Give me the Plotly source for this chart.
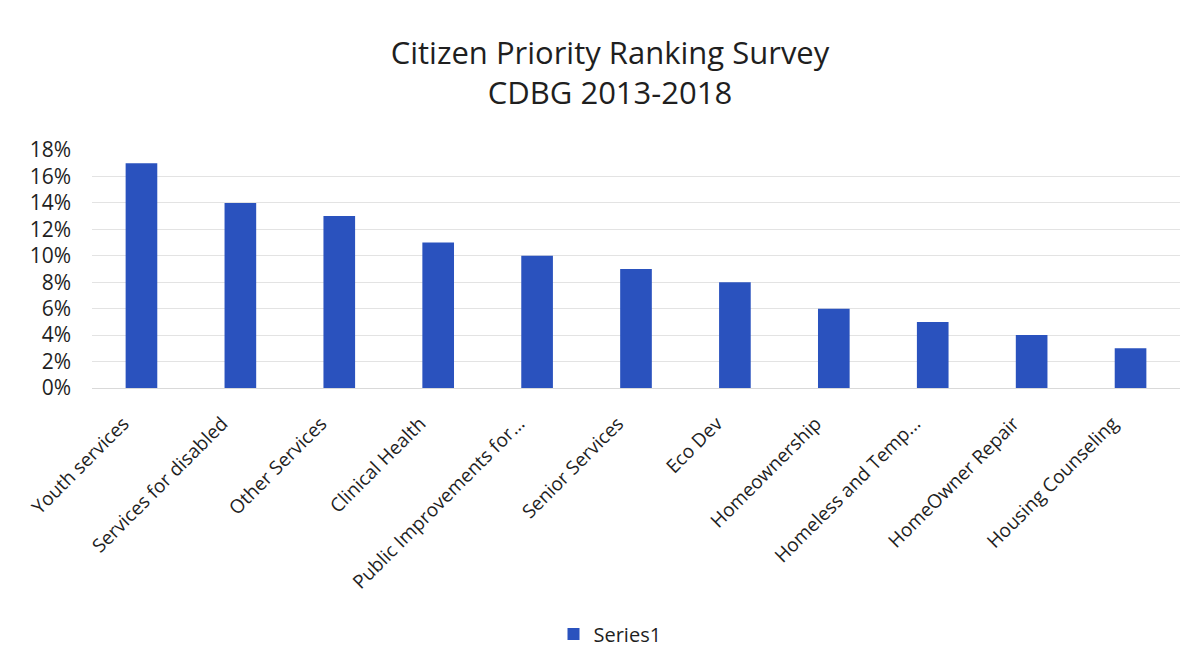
import plotly.graph_objects as go

categories = ["Youth services", "Services for disabled", "Other Services", "Clinical Health",
              "Public Improvements for...", "Senior Services", "Eco Dev", "Homeownership",
              "Homeless and Temp...", "HomeOwner Repair", "Housing Counseling"]
values = [0.17, 0.14, 0.13, 0.11, 0.10, 0.09, 0.08, 0.06, 0.05, 0.04, 0.03]
y_ticks = [0, 0.02, 0.04, 0.06, 0.08, 0.10, 0.12, 0.14, 0.16, 0.18]

FONT = "Open Sans"
TXT = "#1f1f1f"

fig = go.Figure(go.Bar(
    x=categories, y=values, name="Series1",
    marker=dict(color="#2a52be", line=dict(width=0)),
))

fig.update_layout(
    width=1201, height=671,
    paper_bgcolor="white", plot_bgcolor="white",
    margin=dict(l=84, r=29, t=142, b=291, autoexpand=False),
    title=dict(text="Citizen Priority Ranking Survey<br>CDBG 2013-2018",
               x=602 / 1201, xanchor="center", xref="container",
               y=1 - 56 / 671, yanchor="middle", yref="container",
               font=dict(family=FONT, size=31, color=TXT)),
    font=dict(family=FONT, size=18, color=TXT),
    bargap=0.68,
    showlegend=True,
    legend=dict(orientation="h", x=602 / 1201, xanchor="center", xref="container",
                y=1 - 626 / 671, yanchor="middle", yref="container",
                font=dict(size=20, color=TXT)),
    xaxis=dict(tickangle=-45, showgrid=False, showline=True, linecolor="#d9d9d9",
               ticks="", tickfont=dict(size=19), ticklabelshift=-18,
               ticklabelstandoff=16),
    yaxis=dict(range=[0, 0.18], tickvals=y_ticks, tickformat=".0%",
               showgrid=True, gridcolor="#e3e3e3", zeroline=False,
               ticks="", tickfont=dict(size=21), ticklabelstandoff=20),
)

fig.write_html("out.html")
